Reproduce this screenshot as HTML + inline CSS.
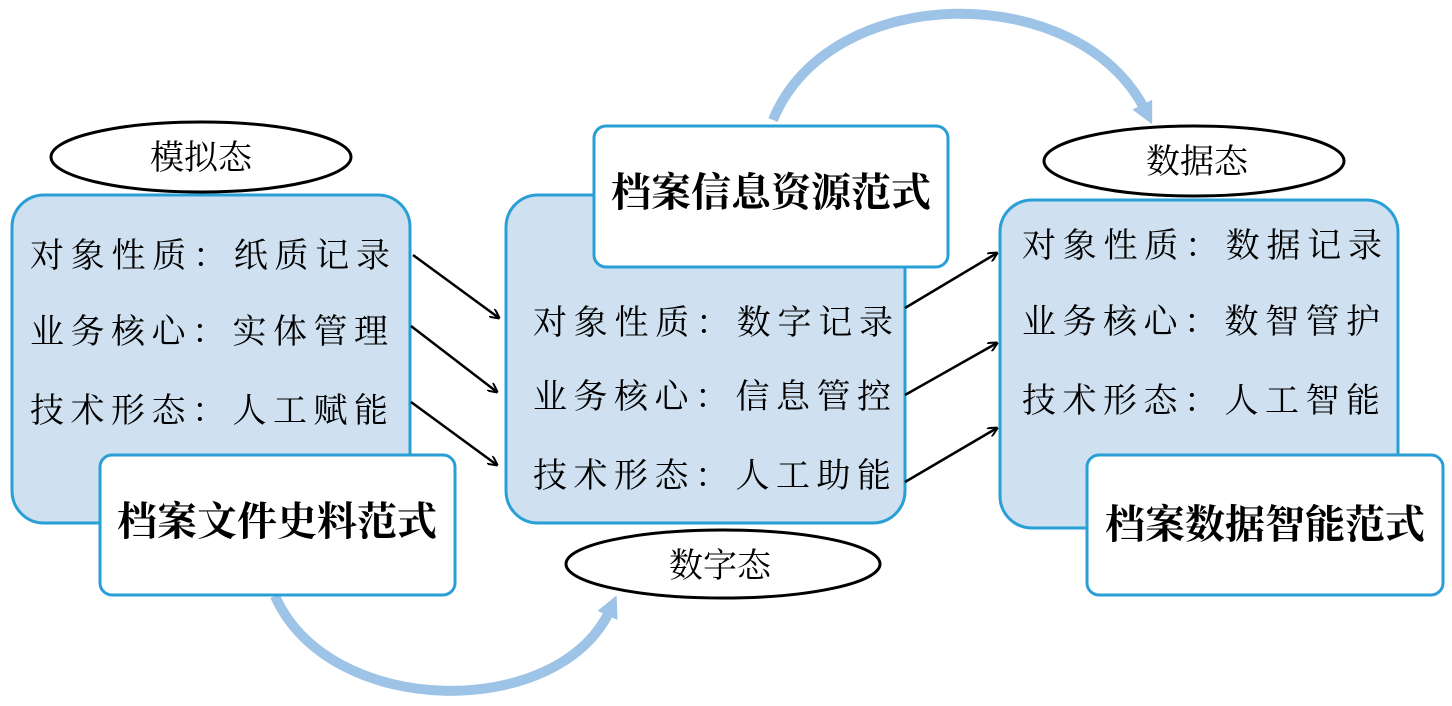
<!DOCTYPE html>
<html><head><meta charset="utf-8"><style>
html,body{margin:0;padding:0;background:#fff;}
svg{display:block;}
.t{font-family:"Liberation Serif","Noto Serif CJK SC",serif;font-size:34px;fill:#000;}
.b{font-family:"Liberation Serif","Noto Serif CJK SC",serif;font-size:40px;font-weight:bold;fill:#000;}
</style></head><body>
<svg width="1452" height="706" viewBox="0 0 1452 706" xmlns="http://www.w3.org/2000/svg">
<defs>
<marker id="ah" markerWidth="10" markerHeight="10" refX="9" refY="5" orient="auto" markerUnits="userSpaceOnUse" viewBox="0 0 10 10">
<path d="M0,0 L10,5 L0,10" fill="none" stroke="#000" stroke-width="2"/>
</marker>
<marker id="bh" markerWidth="22" markerHeight="22" refX="6" refY="11" orient="auto" markerUnits="userSpaceOnUse" viewBox="0 0 22 22">
<path d="M0,0 L22,11 L0,22 z" fill="#9dc3e6"/>
</marker>
</defs>
<!-- arcs -->
<path d="M773,120 C830,-20 1080,-20 1145,110" fill="none" stroke="#9dc3e6" stroke-width="10" marker-end="url(#bh)"/>
<path d="M275,596 C330,720 560,720 610,610" fill="none" stroke="#9dc3e6" stroke-width="10" marker-end="url(#bh)"/>
<!-- big boxes -->
<rect x="12" y="195" width="398" height="328" rx="32" fill="#cfe0f0" stroke="#2a9fd6" stroke-width="3"/>
<rect x="506" y="195" width="399" height="328" rx="32" fill="#cfe0f0" stroke="#2a9fd6" stroke-width="3"/>
<rect x="1000" y="200" width="398" height="328" rx="32" fill="#cfe0f0" stroke="#2a9fd6" stroke-width="3"/>
<!-- ellipses -->
<ellipse cx="201" cy="157" rx="150" ry="35" fill="#fff" stroke="#000" stroke-width="3"/>
<text class="t" x="201" y="169" text-anchor="middle">模拟态</text>
<ellipse cx="1194" cy="161" rx="150" ry="35" fill="#fff" stroke="#000" stroke-width="3"/>
<text class="t" x="1197" y="173" text-anchor="middle">数据态</text>
<ellipse cx="723" cy="564" rx="157" ry="34" fill="#fff" stroke="#000" stroke-width="3"/>
<text class="t" x="720" y="577" text-anchor="middle">数字态</text>
<!-- left text -->
<text class="t" x="30" y="267" textLength="360">对象性质：纸质记录</text>
<text class="t" x="30" y="343" textLength="358">业务核心：实体管理</text>
<text class="t" x="30" y="422" textLength="358">技术形态：人工赋能</text>
<!-- middle text -->
<text class="t" x="533" y="334" textLength="360">对象性质：数字记录</text>
<text class="t" x="533" y="408" textLength="358">业务核心：信息管控</text>
<text class="t" x="533" y="487" textLength="358">技术形态：人工助能</text>
<!-- right text -->
<text class="t" x="1022" y="257" textLength="360">对象性质：数据记录</text>
<text class="t" x="1022" y="333" textLength="358">业务核心：数智管护</text>
<text class="t" x="1022" y="412" textLength="358">技术形态：人工智能</text>
<!-- white title boxes -->
<rect x="100" y="455" width="355" height="140" rx="12" fill="#fff" stroke="#2a9fd6" stroke-width="3"/>
<text class="b" x="277" y="535" text-anchor="middle">档案文件史料范式</text>
<rect x="594" y="126" width="354" height="141" rx="12" fill="#fff" stroke="#2a9fd6" stroke-width="3"/>
<text class="b" x="771" y="206" text-anchor="middle">档案信息资源范式</text>
<rect x="1087" y="455" width="356" height="140" rx="12" fill="#fff" stroke="#2a9fd6" stroke-width="3"/>
<text class="b" x="1265" y="538" text-anchor="middle">档案数据智能范式</text>
<!-- arrows -->
<g stroke="#000" stroke-width="2.5" marker-end="url(#ah)">
<line x1="413" y1="255" x2="499" y2="318"/>
<line x1="411" y1="326" x2="497" y2="392"/>
<line x1="411" y1="402" x2="497" y2="465"/>
<line x1="905" y1="308" x2="997" y2="253"/>
<line x1="905" y1="395" x2="997" y2="343"/>
<line x1="905" y1="482" x2="997" y2="428"/>
</g>
</svg>
</body></html>
